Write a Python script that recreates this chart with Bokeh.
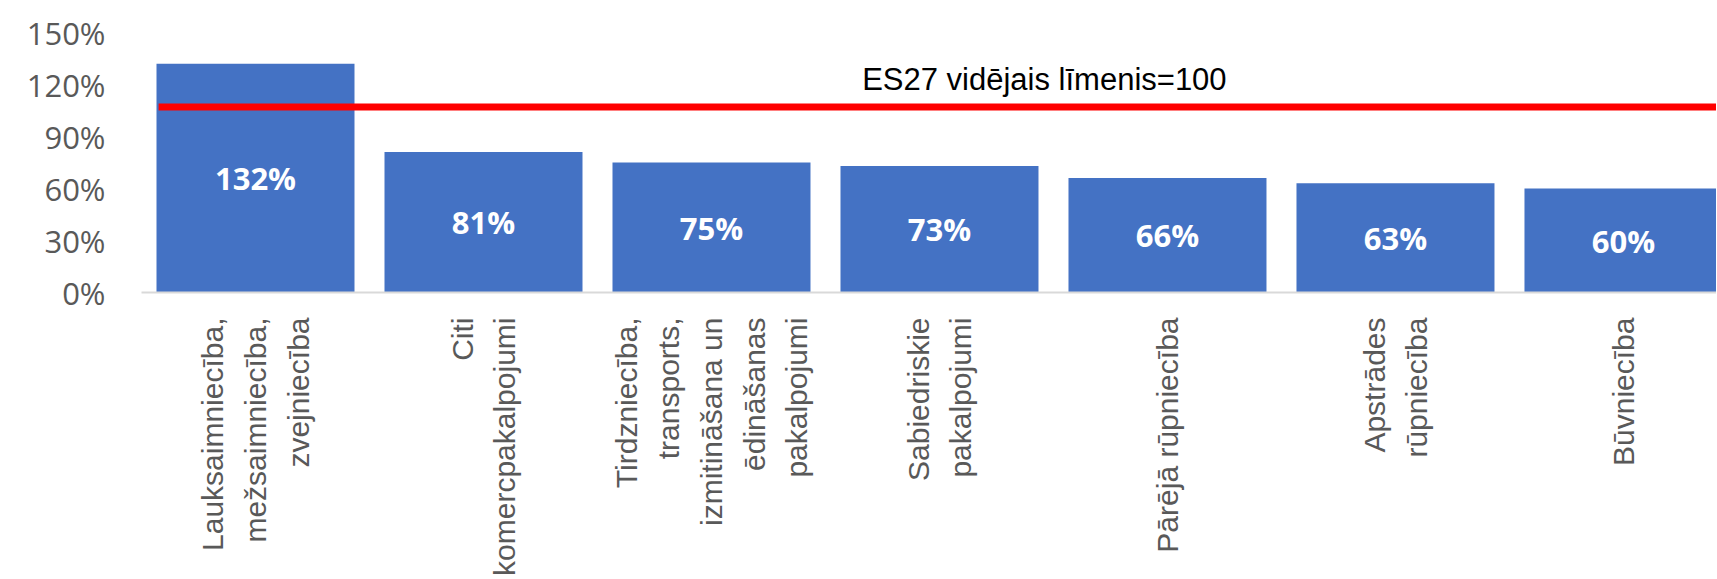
import math
from bokeh.plotting import figure
from bokeh.models import Range1d, FixedTicker, Label, ColumnDataSource
from bokeh.core.properties import value
from bokeh.embed import file_html
from bokeh.resources import INLINE

categories = [
    "Lauksaimniecība,\nmežsaimniecība,\nzvejniecība",
    "Citi\nkomercpakalpojumi",
    "Tirdzniecība,\ntransports,\nizmitināšana un\nēdināšanas\npakalpojumi",
    "Sabiedriskie\npakalpojumi",
    "Pārējā rūpniecība",
    "Apstrādes\nrūpniecība",
    "Būvniecība",
]
values = [132, 81, 75, 73, 66, 63, 60]
value_labels = ["132%", "81%", "75%", "73%", "66%", "63%", "60%"]
y_ticks = [0, 30, 60, 90, 120, 150]
y_tick_labels = ["0%", "30%", "60%", "90%", "120%", "150%"]
ref_level = 107
ref_text = "ES27 vidējais līmenis=100"

pos = [i + 0.5 for i in range(len(categories))]
x_end = 6.908

p = figure(width=1716, height=578, output_backend="svg", toolbar_location=None,
           x_range=Range1d(0, x_end), y_range=Range1d(0, 150),
           min_border_left=141, min_border_right=0, min_border_top=32, min_border_bottom=0)
p.outline_line_color = None
p.xgrid.visible = False
p.ygrid.visible = False
p.background_fill_color = "white"
p.border_fill_color = "white"

src = ColumnDataSource(dict(x=pos, top=values, mid=[v / 2 for v in values], lab=value_labels))
p.vbar(x="x", top="top", width=198 / 228, source=src, fill_color="#4472C4", line_color=None)

p.line(x=[0.075, x_end], y=[ref_level, ref_level], line_color="#FF0000", line_width=7)

p.text(x="x", y="mid", text="lab", source=src, text_color="white",
       text_font=value("Open Sans"), text_font_style="bold", text_font_size="31px",
       text_align="center", text_baseline="middle")

p.add_layout(Label(x=3.96, y=122.7, text=ref_text, text_font="Liberation Sans",
                   text_font_size="31px", text_color="black",
                   text_align="center", text_baseline="middle"))

# y axis
ya = p.yaxis[0]
ya.ticker = FixedTicker(ticks=y_ticks)
ya.major_label_overrides = {t: l for t, l in zip(y_ticks, y_tick_labels)}
ya.axis_line_color = None
ya.major_tick_line_color = None
ya.minor_tick_line_color = None
ya.major_tick_out = 0
ya.major_tick_in = 0
ya.major_label_standoff = 36
ya.major_label_text_font = "Open Sans"
ya.major_label_text_font_size = "31px"
ya.major_label_text_color = "#595959"

# x axis
xa = p.xaxis[0]
xa.ticker = FixedTicker(ticks=pos)
xa.major_label_overrides = {t: c for t, c in zip(pos, categories)}
xa.axis_line_color = "#D9D9D9"
xa.axis_line_width = 2
xa.major_tick_line_color = None
xa.minor_tick_line_color = None
xa.major_tick_out = 0
xa.major_tick_in = 0
xa.major_label_orientation = math.pi / 2
xa.major_label_standoff = 25
xa.major_label_text_font = "Liberation Sans"
xa.major_label_text_font_size = "30px"
xa.major_label_text_color = "#595959"
xa.major_label_text_line_height = 1.29
xa.major_label_text_align = "center"

open("out.html", "w").write(file_html(p, INLINE))
